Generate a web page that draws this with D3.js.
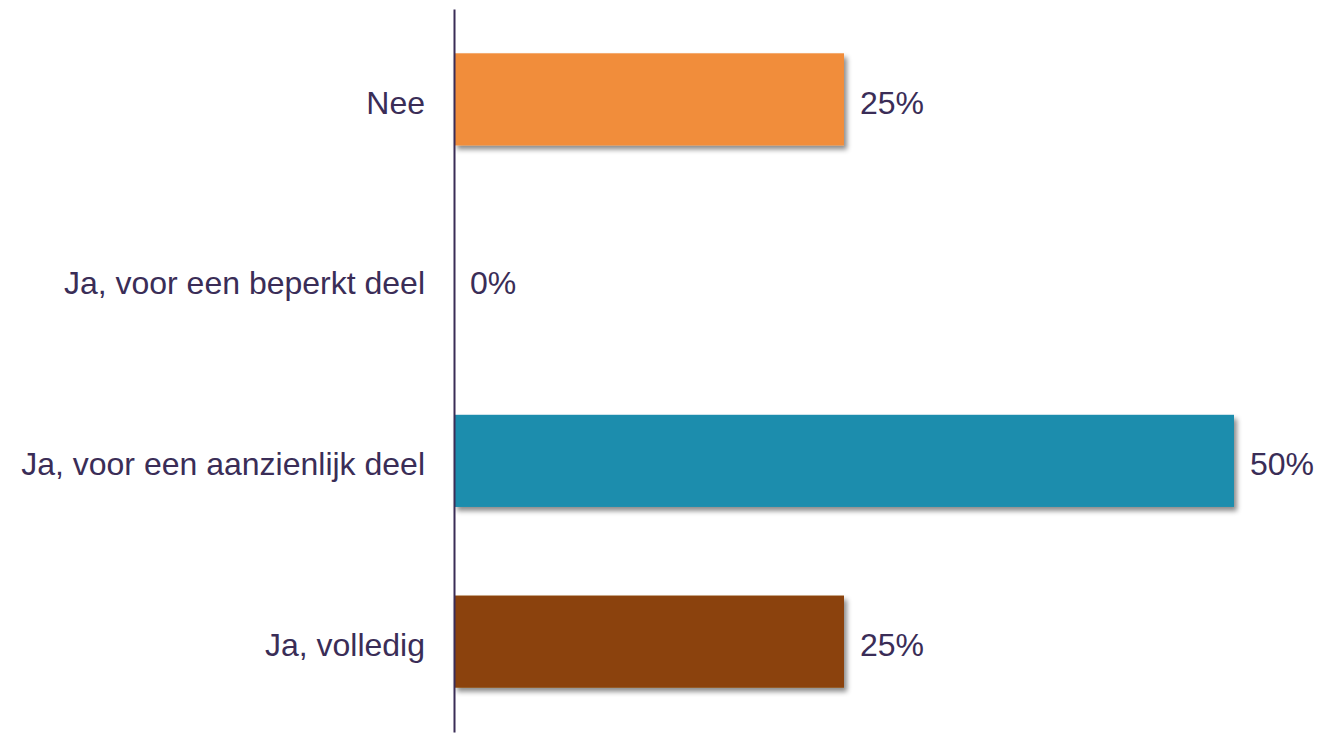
<!DOCTYPE html>
<html>
<head>
<meta charset="utf-8">
<script src="https://cdn.jsdelivr.net/npm/d3@7/dist/d3.min.js"></script>
<style>
html,body{margin:0;padding:0;background:#fff;}
svg{display:block;}
text{font-family:"Liberation Sans",Arial,sans-serif;}
</style>
</head>
<body>
<svg id="chart" width="1332" height="737"></svg>
<script>
const categories = ["Nee", "Ja, voor een beperkt deel", "Ja, voor een aanzienlijk deel", "Ja, volledig"];
const values = [25, 0, 50, 25];
const colors = ["#F18D3A", "#F18D3A", "#1F8DAD", "#8B4309"];
const valueLabels = ["25%", "0%", "50%", "25%"];

const svg = d3.select("#chart");
const textColor = "#3a2d57";
const fontSize = 32;

const x = d3.scaleLinear().domain([0, 50]).range([454, 1234]);
const y = d3.scaleBand().domain(categories).range([9, 732]).paddingInner(0.49).paddingOuter(0.245);

const defs = svg.append("defs");
const f = defs.append("filter").attr("id", "shadow").attr("x", "-5%").attr("y", "-20%").attr("width", "115%").attr("height", "150%");
f.append("feDropShadow").attr("dx", 3).attr("dy", 4).attr("stdDeviation", 2.5).attr("flood-color", "#000").attr("flood-opacity", 0.45);

const data = categories.map((c, i) => ({c, v: values[i], color: colors[i], label: valueLabels[i]}));

svg.selectAll("rect.bar").data(data.filter(d => d.v > 0)).enter().append("rect")
  .attr("class", "bar")
  .attr("x", x(0))
  .attr("y", d => y(d.c))
  .attr("width", d => x(d.v) - x(0))
  .attr("height", y.bandwidth())
  .attr("fill", d => d.color)
  .attr("filter", "url(#shadow)");

svg.selectAll("text.val").data(data).enter().append("text")
  .attr("class", "val")
  .attr("x", d => x(d.v) + 16)
  .attr("y", d => y(d.c) + y.bandwidth() / 2 + 3)
  .attr("dy", "0.35em")
  .attr("font-size", fontSize)
  .attr("fill", textColor)
  .text(d => d.label);

const axis = d3.axisLeft(y).tickSize(0).tickPadding(29);
const g = svg.append("g").attr("transform", `translate(${x(0)},0)`).call(axis);
g.select(".domain").attr("stroke", textColor).attr("stroke-width", 2);
g.selectAll(".tick text").attr("font-size", fontSize).attr("fill", textColor)
  .attr("font-family", "'Liberation Sans', Arial, sans-serif").attr("dy", "0.35em")
  .attr("y", 3);
</script>
</body>
</html>
